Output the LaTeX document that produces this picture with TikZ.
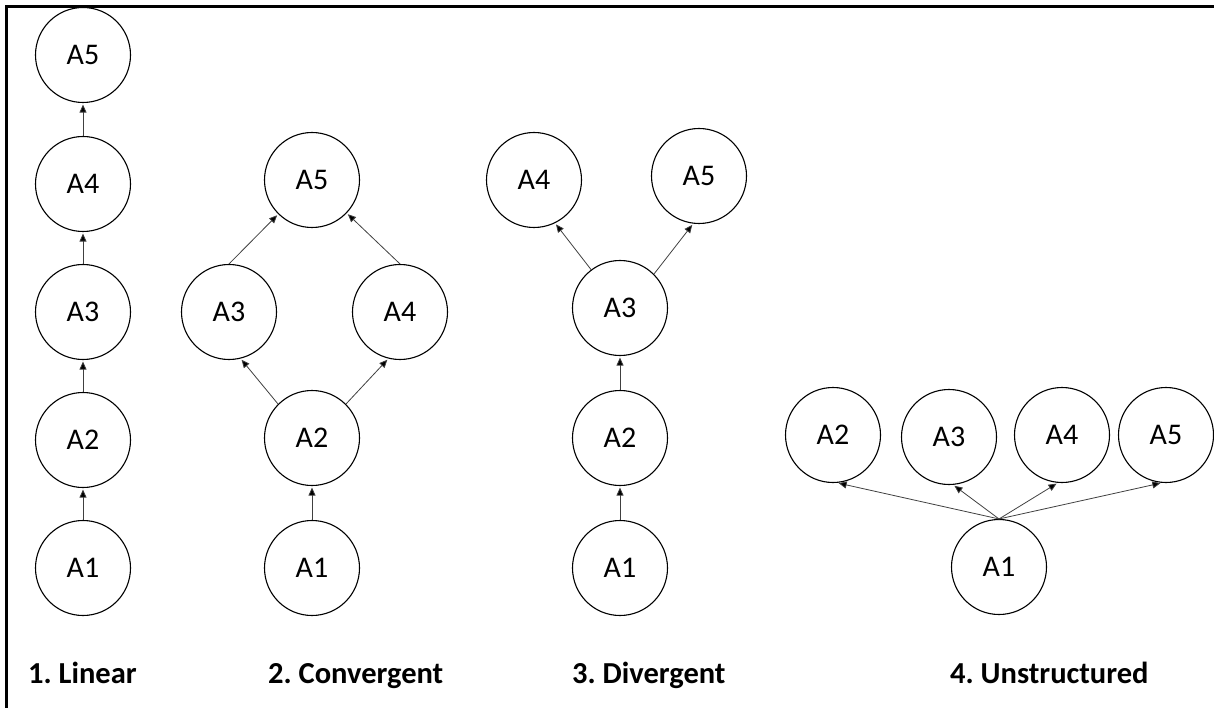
\documentclass[tikz,border=0pt]{standalone}
\usepackage{fontspec}
\setmainfont{Carlito}
\usetikzlibrary{arrows.meta}
\frenchspacing
\tikzset{
  nd/.style={circle,draw,line width=1.1pt,minimum size=95pt,inner sep=0pt,font=\fontsize{30}{36}\selectfont},
  arr/.style={draw=black!75,line width=0.8pt,-{Triangle[length=8pt,width=7pt,fill=black]},shorten >=1.5pt},
  ttl/.style={anchor=base west,inner sep=0pt,font=\fontsize{30.5}{36}\selectfont\bfseries}
}
\begin{document}
\begin{tikzpicture}[x=1pt,y=-1pt]
\useasboundingbox (0,0) rectangle (1214,708);
\draw[line width=2.2pt] (6.5,708) -- (6.5,6.5) -- (1214,6.5);
% Linear
\node[nd] (l5) at (83,55) {A5};
\node[nd] (l4) at (83,184) {A4};
\node[nd] (l3) at (83,312) {A3};
\node[nd] (l2) at (83,440) {A2};
\node[nd] (l1) at (83,568) {A1};
\draw[arr] (l1) -- (l2);
\draw[arr] (l2) -- (l3);
\draw[arr] (l3) -- (l4);
\draw[arr] (l4) -- (l5);
% Convergent
\node[nd] (c5) at (312,180) {A5};
\node[nd] (c3) at (229,312) {A3};
\node[nd] (c4) at (400,312) {A4};
\node[nd] (c2) at (312,438) {A2};
\node[nd] (c1) at (312,568) {A1};
\draw[arr] (c1) -- (c2);
\draw[arr] (c2.135) -- (c3.-76);
\draw[arr] (c2.45) -- (c4.-104);
\draw[arr] (c3.north) -- (c5);
\draw[arr] (c4.north) -- (c5);
% Divergent
\node[nd] (d4) at (534,180) {A4};
\node[nd] (d5) at (699,176) {A5};
\node[nd] (d3) at (620,308) {A3};
\node[nd] (d2) at (620,438) {A2};
\node[nd] (d1) at (620,568) {A1};
\draw[arr] (d1) -- (d2);
\draw[arr] (d2) -- (d3);
\draw[arr] (d3.127) -- (d4.-64);
\draw[arr] (d3.45) -- (d5.-97);
% Unstructured
\node[nd] (u2) at (833,435) {A2};
\node[nd] (u3) at (949,437) {A3};
\node[nd] (u4) at (1062,435) {A4};
\node[nd] (u5) at (1166,435) {A5};
\node[nd] (u1) at (999,567) {A1};
\draw[arr] (u1.north) -- (u2.-85);
\draw[arr] (u1.north) -- (u3.-85);
\draw[arr] (u1.north) -- (u4.-95);
\draw[arr] (u1.north) -- (u5.-95);
% Titles
\node[ttl] (t1) at (28,683) {1. Linear};
\node[ttl] (t2) at (268,683) {2. Convergent};
\node[ttl] (t3) at (572,683) {3. Divergent};
\node[ttl] (t4) at (950,683) {4. Unstructured};
\end{tikzpicture}
\end{document}
